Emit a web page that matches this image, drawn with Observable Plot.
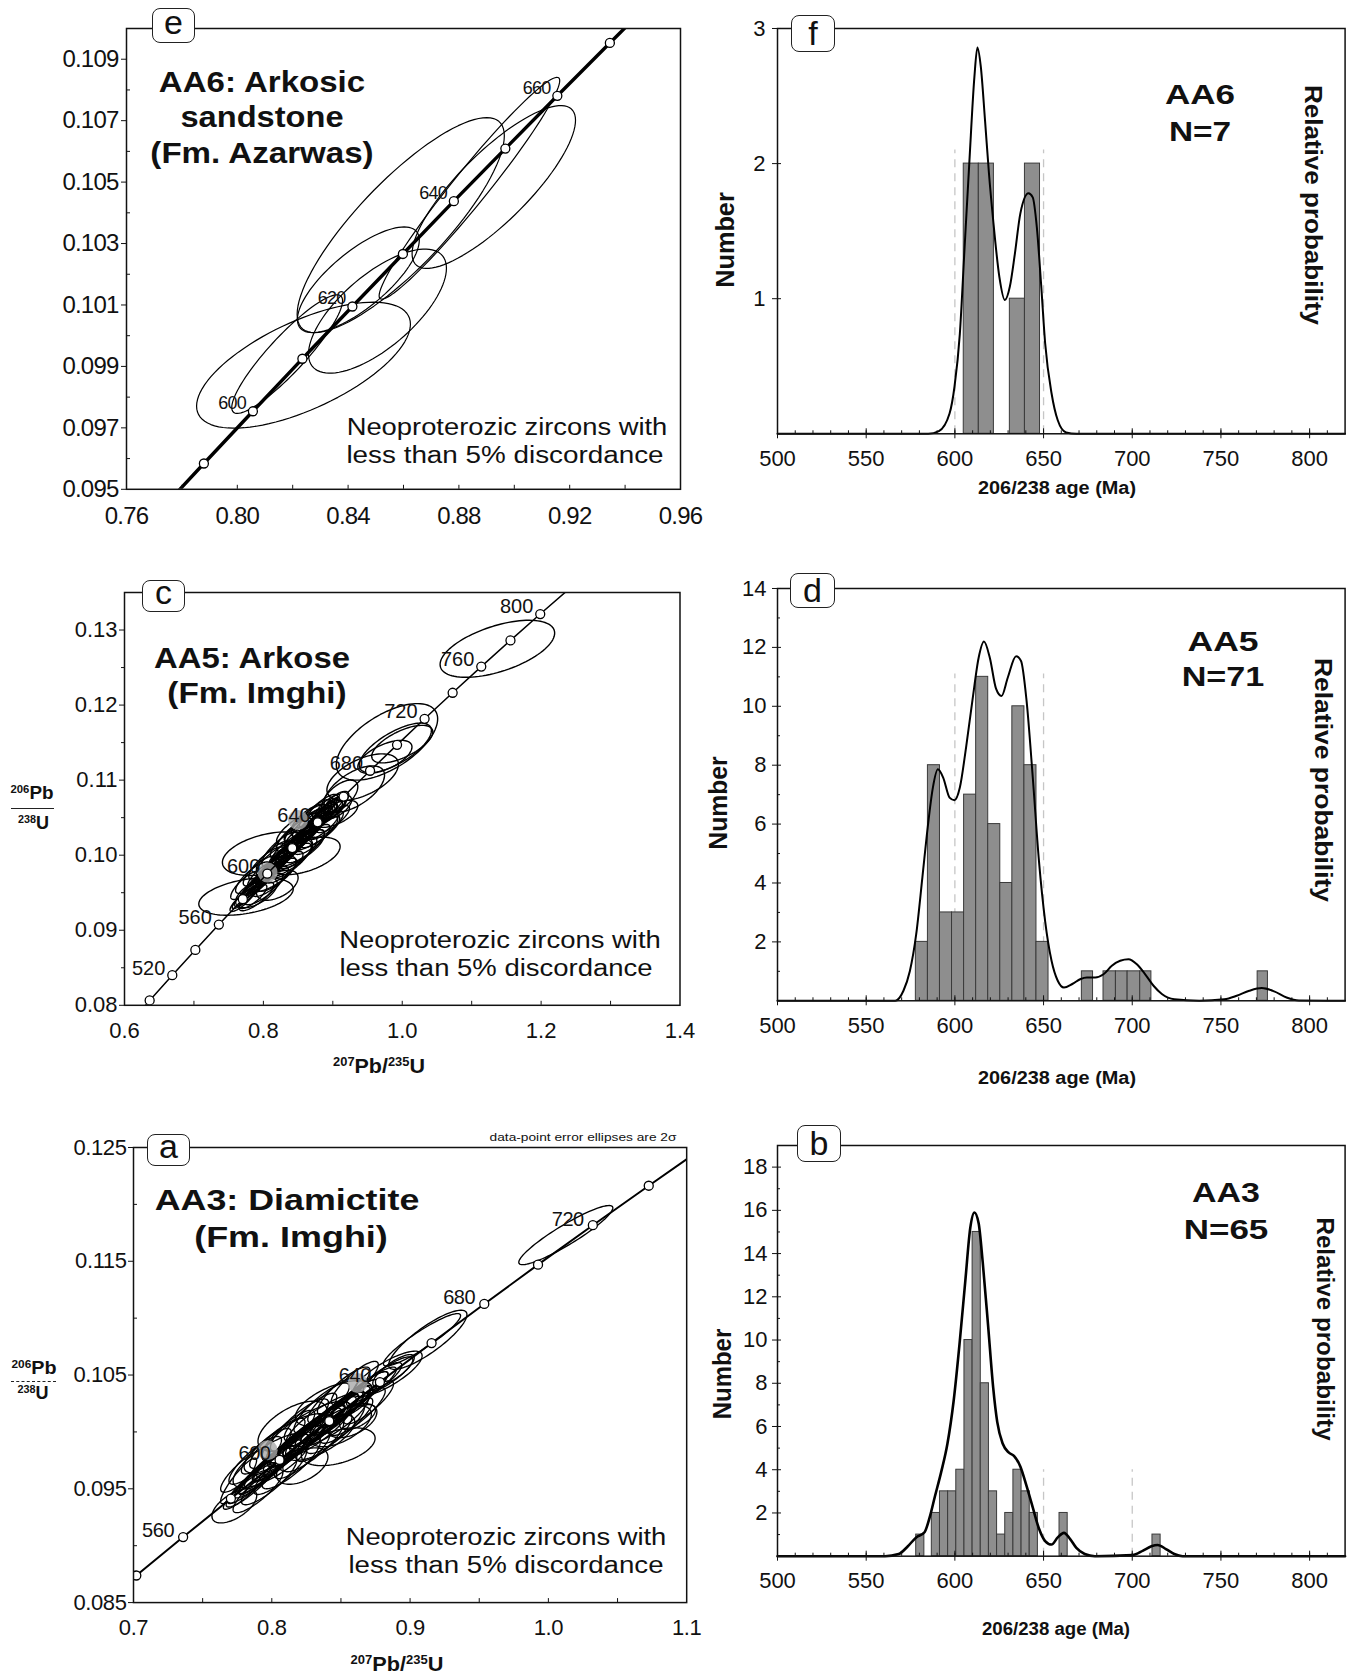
<!DOCTYPE html>
<html>
<head>
<meta charset="utf-8">
<script src="https://cdn.jsdelivr.net/npm/d3@7"></script>
<script src="https://cdn.jsdelivr.net/npm/@observablehq/plot@0.6"></script>
<style>
  html, body { margin: 0; padding: 0; background: #fff; }
  #stage { position: relative; width: 1351px; height: 1676px; overflow: hidden; background: #fff;
           font-family: "Liberation Sans", Arial, Helvetica, sans-serif; color: #111; }
  .holder { position: absolute; }
  .lbl { position: absolute; white-space: nowrap; line-height: 1; }
  .sup { font-size: 0.6em; position: relative; top: -0.55em; }
  .tag { position: absolute; box-sizing: border-box; border: 1.6px solid #222; border-radius: 8px;
         background: #fff; text-align: center; font-size: 34px; }
  .tag span { position: relative; }
  .bar { position: absolute; height: 0; }
</style>
</head>
<body>
<div id="stage"></div>
<script>
// ---------------------------------------------------------------------------
// Concordia reference points: age (Ma), 207Pb/235U and 206Pb/238U
const concordiaAge = [480, 500, 520, 540, 560, 580, 590, 600, 610, 620, 630, 640, 650, 660, 670, 680, 700, 720, 740, 760, 780, 800, 820, 840];
const concordiaX = [0.60436, 0.63623, 0.66883, 0.70203, 0.73588, 0.77041, 0.78794, 0.80563, 0.82350, 0.84155, 0.85978, 0.87818, 0.89677, 0.91554, 0.93450, 0.95365, 0.99251, 1.03215, 1.07257, 1.11380, 1.15585, 1.19873, 1.24247, 1.28707];
const concordiaY = [0.07730, 0.08065, 0.08401, 0.08738, 0.09076, 0.09414, 0.09584, 0.09754, 0.09925, 0.10095, 0.10266, 0.10438, 0.10609, 0.10781, 0.10953, 0.11125, 0.11470, 0.11817, 0.12164, 0.12513, 0.12862, 0.13213, 0.13565, 0.13918];

// Error ellipses: [207Pb/235U, half-width, 206Pb/238U, half-height, rho]
const ellipsesAA6 = [
  [0.8590, 0.0374, 0.10360, 0.00350, 0.83],
  [0.8926, 0.0295, 0.10484, 0.00265, 0.82],
  [0.8838, 0.0326, 0.10480, 0.00361, 0.97],
  [0.8437, 0.0220, 0.10182, 0.00172, 0.75],
  [0.8506, 0.0249, 0.10080, 0.00202, 0.69],
  [0.8239, 0.0386, 0.09904, 0.00205, 0.65],
  [0.8180, 0.0200, 0.09940, 0.00193, 0.90]
];

const ellipsesAA5 = [
  [1.137, 0.0825, 0.1275, 0.0038, 0.55],
  [0.978, 0.0730, 0.1151, 0.0051, 0.60],
  [0.990, 0.0520, 0.1143, 0.0033, 0.70],
  [1.000, 0.0440, 0.1148, 0.0025, 0.65],
  [0.975, 0.0390, 0.1131, 0.0022, 0.60],
  [0.943, 0.0515, 0.1104, 0.0031, 0.55],
  [0.931, 0.0435, 0.1088, 0.0031, 0.60],
  [0.910, 0.0260, 0.1078, 0.0022, 0.60],
  [0.775, 0.0680, 0.0945, 0.0025, 0.40],
  [0.806, 0.0650, 0.1002, 0.0029, 0.40],
  [0.859, 0.0515, 0.0999, 0.0025, 0.50],
  [0.904, 0.0320, 0.1055, 0.0018, 0.60],
  [0.775, 0.020, 0.0945, 0.0016, 0.90],
  [0.780, 0.022, 0.0950, 0.0018, 0.90],
  [0.785, 0.018, 0.0956, 0.0015, 0.88],
  [0.790, 0.025, 0.0960, 0.0020, 0.90],
  [0.793, 0.021, 0.0963, 0.0017, 0.85],
  [0.798, 0.024, 0.0968, 0.0019, 0.90],
  [0.800, 0.030, 0.0970, 0.0024, 0.92],
  [0.804, 0.019, 0.0974, 0.0016, 0.87],
  [0.808, 0.026, 0.0978, 0.0021, 0.90],
  [0.812, 0.022, 0.0982, 0.0018, 0.88],
  [0.815, 0.028, 0.0985, 0.0023, 0.90],
  [0.818, 0.020, 0.0988, 0.0017, 0.86],
  [0.822, 0.024, 0.0992, 0.0020, 0.90],
  [0.825, 0.030, 0.0994, 0.0025, 0.92],
  [0.828, 0.021, 0.0998, 0.0018, 0.87],
  [0.832, 0.026, 0.1002, 0.0021, 0.90],
  [0.835, 0.023, 0.1005, 0.0019, 0.88],
  [0.838, 0.029, 0.1007, 0.0024, 0.90],
  [0.842, 0.020, 0.1011, 0.0017, 0.86],
  [0.845, 0.025, 0.1014, 0.0020, 0.90],
  [0.848, 0.031, 0.1016, 0.0026, 0.92],
  [0.852, 0.022, 0.1020, 0.0018, 0.88],
  [0.855, 0.027, 0.1023, 0.0022, 0.90],
  [0.858, 0.024, 0.1026, 0.0020, 0.87],
  [0.862, 0.029, 0.1029, 0.0024, 0.90],
  [0.865, 0.021, 0.1033, 0.0018, 0.86],
  [0.868, 0.026, 0.1035, 0.0022, 0.90],
  [0.872, 0.023, 0.1039, 0.0019, 0.88],
  [0.875, 0.028, 0.1042, 0.0023, 0.90],
  [0.878, 0.022, 0.1045, 0.0018, 0.87],
  [0.882, 0.025, 0.1048, 0.0020, 0.88],
  [0.886, 0.020, 0.1052, 0.0016, 0.85],
  [0.890, 0.024, 0.1055, 0.0018, 0.80],
  [0.895, 0.022, 0.1058, 0.0017, 0.75],
  [0.898, 0.021, 0.1061, 0.0016, 0.70],
  [0.905, 0.022, 0.1064, 0.0016, 0.60],
  [0.830, 0.040, 0.0995, 0.0026, 0.70],
  [0.850, 0.038, 0.1010, 0.0025, 0.70],
  [0.870, 0.040, 0.1030, 0.0025, 0.75],
  [0.812, 0.035, 0.0975, 0.0024, 0.70],
  [0.790, 0.030, 0.0950, 0.0020, 0.60],
  [0.820, 0.030, 0.0960, 0.0020, 0.50],
  [0.790, 0.025, 0.0945, 0.0019, 0.80],
  [0.800, 0.028, 0.0955, 0.0021, 0.80],
  [0.810, 0.026, 0.0965, 0.0020, 0.80],
  [0.820, 0.028, 0.0974, 0.0022, 0.80],
  [0.830, 0.027, 0.0984, 0.0021, 0.80],
  [0.840, 0.029, 0.0993, 0.0023, 0.80],
  [0.850, 0.027, 0.1003, 0.0021, 0.80],
  [0.860, 0.028, 0.1012, 0.0022, 0.80],
  [0.870, 0.026, 0.1021, 0.0020, 0.80],
  [0.880, 0.027, 0.1031, 0.0021, 0.80],
  [0.890, 0.025, 0.1040, 0.0019, 0.80],
  [0.900, 0.024, 0.1048, 0.0018, 0.80],
  [0.775, 0.022, 0.0960, 0.0019, 0.80],
  [0.785, 0.025, 0.0970, 0.0021, 0.80],
  [0.795, 0.024, 0.0979, 0.0020, 0.80],
  [0.805, 0.026, 0.0989, 0.0022, 0.80],
  [0.815, 0.025, 0.0998, 0.0021, 0.80],
  [0.825, 0.027, 0.1008, 0.0023, 0.80],
  [0.835, 0.025, 0.1017, 0.0021, 0.80],
  [0.845, 0.026, 0.1027, 0.0022, 0.80],
  [0.855, 0.024, 0.1036, 0.0020, 0.80],
  [0.865, 0.025, 0.1046, 0.0021, 0.80],
  [0.875, 0.023, 0.1055, 0.0019, 0.80],
  [0.885, 0.022, 0.1063, 0.0018, 0.80],
  [0.860, 0.030, 0.1040, 0.0022, 0.85],
  [0.870, 0.028, 0.1045, 0.0021, 0.85],
  [0.880, 0.026, 0.1050, 0.0020, 0.85],
  [0.865, 0.024, 0.1050, 0.0018, 0.80],
  [0.885, 0.024, 0.1040, 0.0019, 0.80],
  [0.845, 0.026, 0.1035, 0.0020, 0.80],
  [0.895, 0.020, 0.1065, 0.0016, 0.75],
  [0.905, 0.018, 0.1070, 0.0015, 0.70],
  [0.770, 0.018, 0.0940, 0.0015, 0.85],
  [0.785, 0.020, 0.0945, 0.0016, 0.80]
];

const ellipsesAA3 = [
  [1.0126, 0.0340, 0.1173, 0.0026, 0.92],
  [0.9128, 0.0283, 0.1081, 0.0026, 0.85],
  [0.9086, 0.0279, 0.1081, 0.0023, 0.92],
  [0.8480, 0.0267, 0.0987, 0.00166, 0.45],
  [0.8220, 0.0186, 0.0970, 0.0016, 0.50],
  [0.7729, 0.0162, 0.0935, 0.0015, 0.60],
  [0.7760, 0.0130, 0.0957, 0.0020, 0.90],
  [0.8837, 0.0250, 0.1051, 0.0020, 0.80],
  [0.8620, 0.0130, 0.1013, 0.0011, 0.60],
  [0.780, 0.015, 0.0948, 0.0016, 0.90],
  [0.785, 0.018, 0.0953, 0.0019, 0.90],
  [0.788, 0.020, 0.0958, 0.0021, 0.92],
  [0.792, 0.016, 0.0962, 0.0017, 0.90],
  [0.795, 0.022, 0.0965, 0.0023, 0.92],
  [0.798, 0.018, 0.0969, 0.0019, 0.90],
  [0.801, 0.025, 0.0972, 0.0026, 0.93],
  [0.804, 0.017, 0.0975, 0.0018, 0.90],
  [0.807, 0.021, 0.0978, 0.0022, 0.91],
  [0.810, 0.024, 0.0981, 0.0024, 0.92],
  [0.812, 0.018, 0.0984, 0.0019, 0.90],
  [0.815, 0.026, 0.0986, 0.0026, 0.93],
  [0.818, 0.020, 0.0989, 0.0020, 0.90],
  [0.820, 0.023, 0.0992, 0.0023, 0.91],
  [0.823, 0.019, 0.0994, 0.0019, 0.90],
  [0.826, 0.027, 0.0997, 0.0027, 0.93],
  [0.829, 0.021, 0.1000, 0.0021, 0.90],
  [0.832, 0.024, 0.1002, 0.0024, 0.91],
  [0.835, 0.018, 0.1005, 0.0018, 0.88],
  [0.838, 0.025, 0.1008, 0.0025, 0.92],
  [0.841, 0.020, 0.1011, 0.0020, 0.90],
  [0.844, 0.023, 0.1013, 0.0023, 0.90],
  [0.847, 0.019, 0.1016, 0.0019, 0.88],
  [0.850, 0.022, 0.1019, 0.0022, 0.90],
  [0.853, 0.018, 0.1022, 0.0018, 0.88],
  [0.856, 0.021, 0.1025, 0.0021, 0.90],
  [0.860, 0.017, 0.1029, 0.0017, 0.88],
  [0.864, 0.020, 0.1033, 0.0020, 0.90],
  [0.868, 0.016, 0.1037, 0.0016, 0.87],
  [0.872, 0.018, 0.1040, 0.0017, 0.88],
  [0.878, 0.016, 0.1046, 0.0015, 0.85],
  [0.884, 0.018, 0.1050, 0.0016, 0.85],
  [0.888, 0.015, 0.1054, 0.0014, 0.80],
  [0.810, 0.030, 0.0990, 0.0026, 0.80],
  [0.825, 0.032, 0.1000, 0.0027, 0.80],
  [0.840, 0.030, 0.1010, 0.0025, 0.80],
  [0.800, 0.028, 0.0975, 0.0024, 0.75],
  [0.835, 0.025, 0.0995, 0.0020, 0.70],
  [0.850, 0.022, 0.1005, 0.0018, 0.60],
  [0.858, 0.018, 0.1010, 0.0015, 0.50],
  [0.845, 0.028, 0.1025, 0.0020, 0.60],
  [0.815, 0.025, 0.1005, 0.0022, 0.60],
  [0.790, 0.018, 0.0948, 0.0019, 0.85],
  [0.798, 0.020, 0.0957, 0.0021, 0.85],
  [0.806, 0.019, 0.0965, 0.0020, 0.85],
  [0.814, 0.021, 0.0972, 0.0022, 0.85],
  [0.822, 0.020, 0.0980, 0.0021, 0.85],
  [0.830, 0.022, 0.0988, 0.0023, 0.85],
  [0.838, 0.020, 0.0995, 0.0021, 0.85],
  [0.846, 0.021, 0.1003, 0.0022, 0.85],
  [0.854, 0.019, 0.1010, 0.0020, 0.85],
  [0.862, 0.020, 0.1018, 0.0021, 0.85],
  [0.870, 0.018, 0.1026, 0.0019, 0.85],
  [0.780, 0.017, 0.0966, 0.0019, 0.85],
  [0.788, 0.019, 0.0975, 0.0021, 0.85],
  [0.796, 0.018, 0.0983, 0.0020, 0.85],
  [0.804, 0.020, 0.0990, 0.0022, 0.85],
  [0.812, 0.019, 0.0998, 0.0021, 0.85],
  [0.820, 0.021, 0.1006, 0.0023, 0.85],
  [0.828, 0.019, 0.1013, 0.0021, 0.85],
  [0.836, 0.020, 0.1021, 0.0022, 0.85],
  [0.844, 0.018, 0.1028, 0.0020, 0.85],
  [0.852, 0.019, 0.1036, 0.0021, 0.85],
  [0.860, 0.017, 0.1043, 0.0019, 0.85]
];

// Concordia ages drawn on each diagram
const lineAgesAA6 = [580, 590, 600, 610, 620, 630, 640, 650, 660, 670, 680];
const markerAgesAA6 = [590, 600, 610, 620, 630, 640, 650, 660, 670];
const labelAgesAA6 = [600, 620, 640, 660];
const lineAgesAA5 = [480, 500, 520, 540, 560, 580, 600, 620, 640, 660, 680, 700, 720, 740, 760, 780, 800, 820, 840];
const markerAgesAA5 = [500, 520, 540, 560, 580, 600, 620, 640, 660, 680, 700, 720, 740, 760, 780, 800];
const labelAgesAA5 = [520, 560, 600, 640, 680, 720, 760, 800];
const lineAgesAA3 = [520, 540, 560, 580, 600, 620, 640, 660, 680, 700, 720, 740, 760];
const markerAgesAA3 = [540, 560, 580, 600, 620, 640, 660, 680, 700, 720, 740];
const labelAgesAA3 = [560, 600, 640, 680, 720];

// Grey smudges behind age labels
const smudgeXAA5 = [0.850, 0.806];
const smudgeYAA5 = [0.1047, 0.0977];
const smudgeXAA3 = [0.862, 0.797];
const smudgeYAA3 = [0.1043, 0.0984];

// Concordia axis ticks
const xLabelsAA6 = [0.76, 0.80, 0.84, 0.88, 0.92, 0.96];
const yLabelsAA6 = [0.095, 0.097, 0.099, 0.101, 0.103, 0.105, 0.107, 0.109];
const xLabelsAA5 = [0.6, 0.8, 1.0, 1.2, 1.4];
const yLabelsAA5 = [0.08, 0.09, 0.10, 0.11, 0.12, 0.13];
const xLabelsAA3 = [0.7, 0.8, 0.9, 1.0, 1.1];
const yLabelsAA3 = [0.085, 0.095, 0.105, 0.115, 0.125];

// Histograms of 206Pb/238U ages: bin start, bin end, count
const binStartAA6 = [605, 613.5, 631, 639.5];
const binEndAA6   = [613.5, 622, 639.5, 648];
const countAA6    = [2, 2, 1, 2];
const binStartAA5 = [578, 584.8, 591.6, 598.4, 605.2, 612, 618.8, 625.6, 632.4, 639.2, 646, 671.6, 683.8, 690.8, 697.4, 704.5, 770.7];
const binEndAA5   = [584.8, 591.6, 598.4, 605.2, 612, 618.8, 625.6, 632.4, 639.2, 646, 652.8, 677.9, 690.8, 697.4, 704.5, 710.8, 776.5];
const countAA5    = [2, 8, 3, 3, 7, 11, 6, 4, 10, 8, 2, 1, 1, 1, 1, 1, 1];
const binStartAA3 = [578.2, 587, 591.6, 596.2, 600.8, 605.4, 610, 614.6, 619.2, 623.8, 628.4, 633, 637.6, 642.2, 659, 711.4];
const binEndAA3   = [582.8, 591.6, 596.2, 600.8, 605.4, 610, 614.6, 619.2, 623.8, 628.4, 633, 637.6, 642.2, 646.8, 663.6, 716];
const countAA3    = [1, 2, 3, 3, 4, 10, 15, 8, 3, 1, 2, 4, 3, 2, 2, 1];

// Relative probability curves (age in Ma, value on the count scale)
const curveAgeAA6 = [500, 585, 591, 597, 599.8, 602.8, 605.4, 608.2, 611, 612.7, 614.6, 617, 619.2, 621.6, 625.1, 628.2, 631, 633.8, 636.9, 641.5, 643.9, 646.2, 648.6, 650.9, 654.5, 658, 662.7, 668.5, 820];
const curveValAA6 = [0, 0, 0.02, 0.15, 0.35, 0.74, 1.36, 2.02, 2.64, 2.86, 2.72, 2.32, 1.93, 1.58, 1.16, 0.99, 1.09, 1.33, 1.63, 1.78, 1.75, 1.53, 1.11, 0.67, 0.3, 0.1, 0.01, 0, 0];
const curveAgeAA5 = [500, 566.4, 571, 574.6, 578.2, 581.7, 584.7, 587.6, 590.4, 593.4, 597, 599.8, 602.8, 606.3, 609.9, 613.4, 616.4, 619.7, 623.2, 626.3, 629.8, 634.5, 637.3, 640.4, 643.9, 647.4, 650.9, 654.5, 658, 661.5, 666.2, 670.9, 674.4, 679.1, 683.8, 688.5, 693.2, 697.9, 702.6, 707.3, 712, 716.7, 723.7, 737.8, 751.9, 758.9, 766, 773, 780, 787, 794, 820];
const curveValAA5 = [0, 0, 0.34, 1.0, 2.26, 4.2, 5.9, 7.24, 7.86, 7.58, 6.9, 6.81, 7.24, 8.6, 10.2, 11.65, 12.2, 11.65, 10.6, 10.35, 10.97, 11.7, 11.54, 10.2, 7.6, 4.75, 2.7, 1.36, 0.68, 0.45, 0.57, 0.74, 0.79, 0.79, 0.9, 1.19, 1.36, 1.41, 1.24, 0.9, 0.51, 0.23, 0.05, 0, 0.05, 0.17, 0.34, 0.43, 0.32, 0.11, 0.01, 0];
const curveAgeAA3 = [500, 560.6, 568.3, 573.5, 578.2, 582.9, 585.7, 588.7, 592.3, 595.8, 599.3, 602.8, 605.9, 608.7, 611, 613.4, 615.7, 618.8, 621.6, 623.9, 627, 630.3, 633.3, 636.9, 640.4, 643.9, 647.4, 650.9, 654.5, 658, 661.5, 665, 668.5, 673.2, 679, 700.2, 706.1, 710.8, 714.3, 719, 723.7, 728.4, 820];
const curveValAA3 = [0, 0, 0.1, 0.46, 0.87, 1.11, 1.77, 2.75, 3.9, 5.2, 7.18, 9.97, 12.75, 15.2, 15.9, 15.4, 13.6, 10.6, 7.8, 6.2, 5.2, 4.8, 4.64, 4.15, 3.25, 2.26, 1.28, 0.7, 0.54, 0.87, 1.08, 0.79, 0.38, 0.1, 0, 0.05, 0.26, 0.46, 0.52, 0.33, 0.1, 0, 0];

// Dashed guide lines in the histograms: ages and their top
const guideAgesAA6 = [600, 650], guideTopAA6 = 2.1;
const guideAgesAA5 = [600, 650], guideTopAA5 = 11.1;
const guideAgesAA3 = [650, 700], guideTopAA3 = 4.0;

// Histogram axis ticks
const ageLabels = [500, 550, 600, 650, 700, 750, 800];
const countLabelsAA6 = [1, 2, 3];
const countLabelsAA5 = [2, 4, 6, 8, 10, 12, 14];
const countLabelsAA3 = [2, 4, 6, 8, 10, 12, 14, 16, 18];

// ---------------------------------------------------------------------------
const stage = document.getElementById("stage");
const FONT = '"Liberation Sans", Arial, Helvetica, sans-serif';

const concordia = concordiaAge.map((t, i) => ({t, x: concordiaX[i], y: concordiaY[i]}));
const pick = (ages) => concordia.filter((d) => ages.includes(d.t));

// Outline points of each error ellipse, from its bounding half-extents and correlation
function ellipseOutlines(list) {
  const pts = [];
  list.forEach(([cx, sx, cy, sy, rho], id) => {
    const k = Math.sqrt(1 - rho * rho);
    for (let j = 0; j <= 96; ++j) {
      const a = (j / 96) * 2 * Math.PI;
      pts.push({id, x: cx + sx * Math.cos(a), y: cy + sy * (rho * Math.cos(a) + k * Math.sin(a))});
    }
  });
  return pts;
}

function mount(frame, [mt, mr, mb, ml], x, y, marks, style = {}) {
  const svg = Plot.plot({
    width: frame.right - frame.left + ml + mr,
    height: frame.bottom - frame.top + mt + mb,
    marginTop: mt, marginRight: mr, marginBottom: mb, marginLeft: ml,
    x: {...x, axis: null},
    y: {...y, axis: null},
    style: {fontFamily: FONT, fontSize: "22px", background: "transparent", overflow: "visible", color: "#111", ...style},
    marks
  });
  const holder = document.createElement("div");
  holder.className = "holder";
  holder.style.left = (frame.left - ml) + "px";
  holder.style.top = (frame.top - mt) + "px";
  holder.append(svg);
  stage.append(holder);
}

const noText = {fill: "none", label: null};

// ----- concordia diagrams -----
function concordiaPanel(o) {
  const marks = [
    Plot.line(ellipseOutlines(o.ellipses), {x: "x", y: "y", z: "id", stroke: "#000", strokeWidth: o.ellipseWidth, clip: true}),
    o.smudgeX ? Plot.dot(o.smudgeX.map((v, i) => ({x: v, y: o.smudgeY[i]})), {x: "x", y: "y", r: 10, fill: "#a9a9a9", fillOpacity: 0.8, clip: true}) : null,
    Plot.line(pick(o.lineAges), {x: "x", y: "y", curve: "natural", stroke: "#000", strokeWidth: o.lineWidth, clip: true}),
    Plot.dot(pick(o.markerAges), {x: "x", y: "y", r: 4.5, fill: "#fff", stroke: "#000", strokeWidth: 1.3, clip: true}),
    Plot.text(pick(o.labelAges), {x: "x", y: "y", text: (d) => String(d.t), textAnchor: "end", dx: o.labelDx, dy: o.labelDy, fontSize: o.labelSize, fill: "#111"}),
    Plot.frame({stroke: "#111", strokeWidth: 1.5}),
    Plot.axisX(o.xTicks, {anchor: "bottom", tickSize: -4, ...noText}),
    Plot.axisX(o.xLabels, {anchor: "bottom", tickSize: 0, tickPadding: o.xPad, tickFormat: d3.format(o.xFormat), label: null}),
    Plot.axisY(o.yLabels, {anchor: "left", tickSize: 5, ...noText}),
    Plot.axisY(o.yMinor, {anchor: "left", tickSize: o.yMinorSize, ...noText}),
    Plot.axisY(o.yLabels, {anchor: "left", tickSize: 0, tickPadding: o.yPad, tickFormat: d3.format(o.yFormat), label: null})
  ];
  mount(o.frame, [20, 20, 50, 110], {domain: o.xDomain}, {domain: o.yDomain}, marks, o.style);
}

concordiaPanel({
  frame: {left: 126, right: 680, top: 27.7, bottom: 488.5},
  xDomain: [0.76, 0.96], yDomain: [0.095, 0.110],
  ellipses: ellipsesAA6, ellipseWidth: 1.2,
  lineAges: lineAgesAA6, markerAges: markerAgesAA6, labelAges: labelAgesAA6,
  lineWidth: 3.4, labelSize: 18, labelDx: -7, labelDy: -8,
  xTicks: d3.range(0.78, 0.95, 0.02), xLabels: xLabelsAA6, xFormat: ".2f", xPad: 18,
  yLabels: yLabelsAA6, yMinor: d3.range(0.096, 0.1105, 0.002), yMinorSize: -4, yFormat: ".3f", yPad: 8,
  style: {fontSize: "24px", letterSpacing: "-0.8px"}
});

concordiaPanel({
  frame: {left: 123.5, right: 679, top: 591.7, bottom: 1004.5},
  xDomain: [0.6, 1.4], yDomain: [0.08, 0.135],
  ellipses: ellipsesAA5, ellipseWidth: 1.4, smudgeX: smudgeXAA5, smudgeY: smudgeYAA5,
  lineAges: lineAgesAA5, markerAges: markerAgesAA5, labelAges: labelAgesAA5,
  lineWidth: 1.5, labelSize: 20, labelDx: -7, labelDy: -7,
  xTicks: d3.range(0.7, 1.35, 0.1), xLabels: xLabelsAA5, xFormat: ".1f", xPad: 17,
  yLabels: yLabelsAA5, yMinor: d3.range(0.085, 0.135, 0.01), yMinorSize: 3, yFormat: ".2f", yPad: 7,
  style: {fontSize: "22px"}
});

concordiaPanel({
  frame: {left: 133.3, right: 686.5, top: 1146.6, bottom: 1601.7},
  xDomain: [0.7, 1.1], yDomain: [0.085, 0.125],
  ellipses: ellipsesAA3, ellipseWidth: 1.35, smudgeX: smudgeXAA3, smudgeY: smudgeYAA3,
  lineAges: lineAgesAA3, markerAges: markerAgesAA3, labelAges: labelAgesAA3,
  lineWidth: 2, labelSize: 20, labelDx: -9, labelDy: -6,
  xTicks: d3.range(0.75, 1.08, 0.05), xLabels: xLabelsAA3, xFormat: ".1f", xPad: 17,
  yLabels: yLabelsAA3, yMinor: d3.range(0.09, 0.124, 0.01), yMinorSize: -4, yFormat: ".3f", yPad: 7,
  style: {fontSize: "22px", letterSpacing: "-0.4px"}
});

// ----- age histograms -----
function histogramPanel(o) {
  const bins = o.start.map((a, i) => ({a, b: o.end[i], n: o.count[i]}));
  const curve = o.curveAge.map((age, i) => ({age, p: o.curveVal[i]}));
  const marks = [
    Plot.ruleX(o.guides, {x: (d) => d, y1: 0, y2: o.guideTop, stroke: "#c6c6c6", strokeWidth: 1.3, strokeDasharray: "8,6"}),
    Plot.rect(bins, {x1: "a", x2: "b", y1: 0, y2: "n", fill: "#8e8e8e", stroke: "#3a3a3a", strokeWidth: 1}),
    Plot.line(curve, {x: "age", y: "p", curve: "monotone-x", stroke: "#000", strokeWidth: o.curveWidth}),
    Plot.frame({stroke: "#111", strokeWidth: 1.5}),
    Plot.axisX(d3.range(510, 820, 10), {anchor: "bottom", tickSize: -3, ...noText}),
    Plot.axisX(ageLabels, {anchor: "bottom", tickSize: -5, ...noText}),
    Plot.axisX(ageLabels, {anchor: "bottom", tickSize: 5, ...noText}),
    Plot.axisX(ageLabels, {anchor: "bottom", tickSize: 0, tickPadding: o.xPad, tickFormat: d3.format("d"), label: null}),
    Plot.axisY(o.yLabels, {anchor: "left", tickSize: 5, ...noText}),
    Plot.axisY(o.yLabels, {anchor: "left", tickSize: -4, ...noText}),
    o.yMinor ? Plot.axisY(o.yMinor, {anchor: "left", tickSize: -3, ...noText}) : null,
    Plot.axisY(o.yLabels, {anchor: "left", tickSize: 0, tickPadding: o.yPad, tickFormat: d3.format("d"), label: null, fontSize: o.yFontSize})
  ];
  mount(o.frame, [20, 5, 45, 50], {domain: [500, 820]}, {domain: [0, o.yMax]}, marks, {fontSize: "22px"});
}

histogramPanel({
  frame: {left: 776.7, right: 1344.3, top: 27.7, bottom: 433},
  start: binStartAA6, end: binEndAA6, count: countAA6,
  curveAge: curveAgeAA6, curveVal: curveValAA6, curveWidth: 2,
  guides: guideAgesAA6, guideTop: guideTopAA6,
  yMax: 3, yLabels: countLabelsAA6, yMinor: null, xPad: 17, yPad: 12, yFontSize: 22
});

histogramPanel({
  frame: {left: 776.7, right: 1344.3, top: 587.7, bottom: 1000},
  start: binStartAA5, end: binEndAA5, count: countAA5,
  curveAge: curveAgeAA5, curveVal: curveValAA5, curveWidth: 2,
  guides: guideAgesAA5, guideTop: guideTopAA5,
  yMax: 14, yLabels: countLabelsAA5, yMinor: d3.range(1, 14, 2), xPad: 17, yPad: 11, yFontSize: 22
});

histogramPanel({
  frame: {left: 776.7, right: 1344.3, top: 1144.8, bottom: 1555.5},
  start: binStartAA3, end: binEndAA3, count: countAA3,
  curveAge: curveAgeAA3, curveVal: curveValAA3, curveWidth: 2.6,
  guides: guideAgesAA3, guideTop: guideTopAA3,
  yMax: 19, yLabels: countLabelsAA3, yMinor: d3.range(1, 19, 2), xPad: 16, yPad: 10, yFontSize: 22
});

// ----- text placed around the diagrams -----
function label(txt, cx, cy, {size = 22, bold = false, width = null, rotate = 0, html = false} = {}) {
  const el = document.createElement("div");
  el.className = "lbl";
  if (html) el.innerHTML = txt; else el.textContent = txt;
  el.style.left = cx + "px";
  el.style.top = cy + "px";
  el.style.fontSize = size + "px";
  el.style.fontWeight = bold ? "700" : "400";
  stage.append(el);
  const s = width ? width / el.offsetWidth : 1;
  el.style.transform = `translate(-50%, -50%) rotate(${rotate}deg) scaleX(${s})`;
}

function tag(letter, left, top, w, h, dy) {
  const el = document.createElement("div");
  el.className = "tag";
  el.style.cssText = `left:${left}px;top:${top}px;width:${w}px;height:${h}px;line-height:${h - 3}px;`;
  const span = document.createElement("span");
  span.textContent = letter;
  span.style.top = dy + "px";
  el.append(span);
  stage.append(el);
}

function rule(left, top, width, dashed) {
  const el = document.createElement("div");
  el.className = "bar";
  el.style.cssText = `left:${left}px;top:${top}px;width:${width}px;border-top:1.6px ${dashed ? "dashed" : "solid"} #222;`;
  stage.append(el);
}

// AA6 concordia
label("AA6: Arkosic", 262, 82, {size: 30, bold: true, width: 206});
label("sandstone", 262, 117, {size: 30, bold: true, width: 163});
label("(Fm. Azarwas)", 261.5, 153, {size: 30, bold: true, width: 223});
label("Neoproterozic zircons with", 506.5, 427, {size: 23, width: 321});
label("less than 5% discordance", 504.5, 455, {size: 23, width: 317});
tag("e", 152, 8, 43, 35, -3);

// AA5 concordia
label("AA5: Arkose", 252, 658, {size: 29, bold: true, width: 196});
label("(Fm. Imghi)", 256.7, 693, {size: 29, bold: true, width: 179});
label("Neoproterozic zircons with", 500, 940, {size: 23, width: 322});
label("less than 5% discordance", 495.5, 968, {size: 23, width: 313});
label('<span class="sup">207</span>Pb/<span class="sup">235</span>U', 379, 1065, {size: 21, bold: true, width: 92, html: true});
label('<span class="sup">206</span>Pb', 32, 793, {size: 18, bold: true, width: 43, html: true});
rule(11, 808, 43, false);
label('<span class="sup">238</span>U', 33.5, 823, {size: 18, bold: true, width: 31, html: true});
tag("c", 142, 580, 43, 32, -3);

// AA3 concordia
label("AA3: Diamictite", 287, 1200, {size: 30, bold: true, width: 265});
label("(Fm. Imghi)", 291, 1237, {size: 30, bold: true, width: 194});
label("Neoproterozic zircons with", 506, 1537, {size: 23, width: 321});
label("less than 5% discordance", 505.5, 1565, {size: 23, width: 315});
label("data-point error ellipses are 2σ", 582.6, 1136.5, {size: 11, width: 187});
label('<span class="sup">207</span>Pb/<span class="sup">235</span>U', 396.7, 1663, {size: 21, bold: true, width: 93, html: true});
label('<span class="sup">206</span>Pb', 33.5, 1368, {size: 18, bold: true, width: 45, html: true});
rule(11, 1380.6, 45, true);
label('<span class="sup">238</span>U', 33, 1393, {size: 18, bold: true, width: 31, html: true});
tag("a", 147, 1134, 43, 32, -3);

// AA6 histogram
label("AA6", 1200, 95, {size: 28, bold: true, width: 70});
label("N=7", 1200, 131.7, {size: 28, bold: true, width: 62});
label("Number", 725, 239.5, {size: 25, bold: true, width: 95, rotate: -90});
label("Relative probability", 1311.5, 205, {size: 23, bold: true, width: 240, rotate: 90});
label("206/238 age (Ma)", 1057, 488, {size: 18, bold: true, width: 158});
tag("f", 791, 15, 44, 37, 0);

// AA5 histogram
label("AA5", 1223, 642, {size: 28, bold: true, width: 71});
label("N=71", 1223, 677, {size: 28, bold: true, width: 83});
label("Number", 717.5, 803, {size: 25, bold: true, width: 93, rotate: -90});
label("Relative probability", 1322, 780, {size: 23, bold: true, width: 244, rotate: 90});
label("206/238 age (Ma)", 1057, 1078, {size: 18, bold: true, width: 158});
tag("d", 790, 573, 45, 35, 0);

// AA3 histogram
label("AA3", 1226, 1193, {size: 28, bold: true, width: 68});
label("N=65", 1226, 1230, {size: 28, bold: true, width: 85});
label("Number", 722, 1374, {size: 25, bold: true, width: 90, rotate: -90});
label("Relative probability", 1324, 1329, {size: 23, bold: true, width: 223, rotate: 90});
label("206/238 age (Ma)", 1056, 1629, {size: 18, bold: true, width: 148});
tag("b", 797, 1125, 44, 37, 0);
</script>
</body>
</html>
